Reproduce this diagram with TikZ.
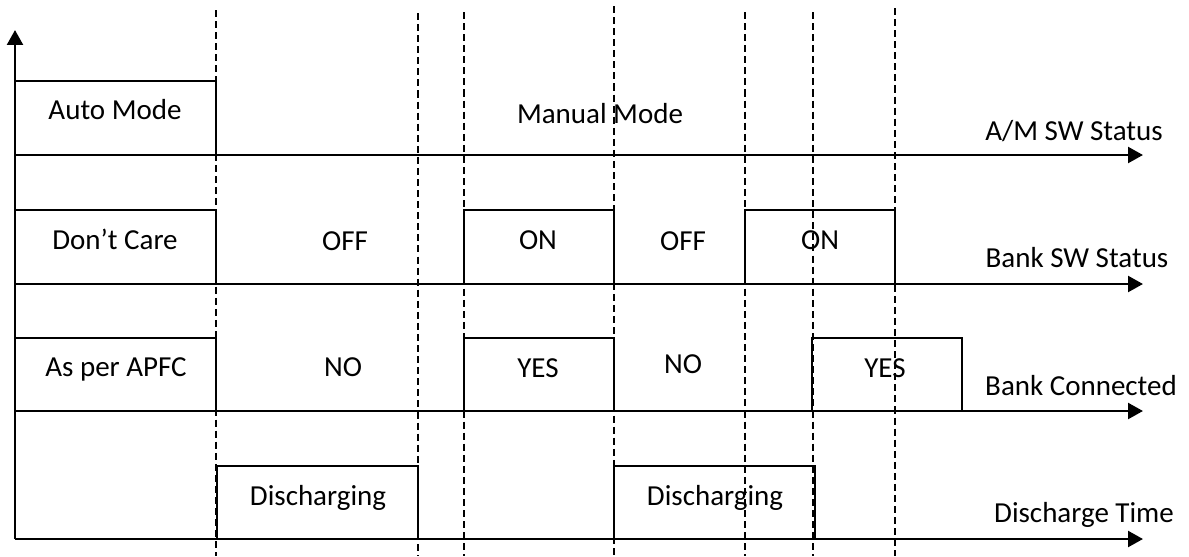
\documentclass[tikz,border=0pt]{standalone}
\usepackage{fontspec}
\setmainfont{Carlito}
\usetikzlibrary{arrows.meta}

\begin{document}
\begin{tikzpicture}[
    x=0.02cm, y=-0.02cm,
    every node/.style={font=\fontsize{16.5}{19}\selectfont, inner sep=0pt},
    lbl/.style={anchor=base},
    axis/.style={-{Triangle[length=8.5pt, width=9pt]}, line width=1.5pt},
    pulse/.style={line width=1.1pt},
    guide/.style={line width=1.05pt, dash pattern=on 4pt off 2.3pt},
]
\fill[white] (0,0) rectangle (1189,556);

% Axes
\coordinate (origin) at (15,539);
\draw[axis] (origin) -- (15,30) coordinate (ytip);
\foreach \name/\y in {am/155, bsw/284, bcon/411, dis/539} {
  \draw[axis] (15,\y) coordinate (\name0) -- (1143,\y) coordinate (\name1);
}

% A/M SW Status
\draw[pulse] (15,81) -- (216,81) -- (216,155);

% Bank SW Status
\draw[pulse] (15,210) -- (216,210) -- (216,284);
\draw[pulse] (464,284) -- (464,210) -- (614,210) -- (614,284);
\draw[pulse] (745,284) -- (745,210) -- (895,210) -- (895,284);

% Bank Connected
\draw[pulse] (15,338) -- (216,338) -- (216,411);
\draw[pulse] (464,411) -- (464,338) -- (614,338) -- (614,411);
\draw[pulse] (812,411) -- (812,338) -- (962,338) -- (962,411);

% Discharge Time
\draw[pulse] (217,539) -- (217,466) -- (418,466) -- (418,539);
\draw[pulse] (614,539) -- (614,466) -- (815,466) -- (815,539);

% Switching instants
\foreach \x/\t in {216/10, 418/13, 464/12, 614/6, 745/12, 813/12, 895/8} {
  \draw[guide] (\x,\t) -- (\x,556);
}

% Labels
\node[lbl] (auto) at (115,119) {Auto Mode};
\node[lbl] (manual) at (600,123) {Manual Mode};
\node[lbl] (amsw) at (1074,140) {A/M SW Status};

\node[lbl] (care) at (115,249) {Don’t Care};
\node[lbl] (off1) at (345,250) {OFF};
\node[lbl] (on1) at (538,249) {ON};
\node[lbl] (off2) at (683,250) {OFF};
\node[lbl] (on2) at (820,249) {ON};
\node[lbl] (banksw) at (1077,267) {Bank SW Status};

\node[lbl] (apfc) at (116,376) {As per APFC};
\node[lbl] (no1) at (343,376) {NO};
\node[lbl] (yes1) at (538,377) {YES};
\node[lbl] (no2) at (683,373) {NO};
\node[lbl] (yes2) at (885,377) {YES};
\node[lbl] (bankcon) at (1081,395) {Bank Connected};

\node[lbl] (dis1) at (318,505) {Discharging};
\node[lbl] (dis2) at (715,505) {Discharging};
\node[lbl] (distime) at (1084,522) {Discharge Time};
\end{tikzpicture}
\end{document}
